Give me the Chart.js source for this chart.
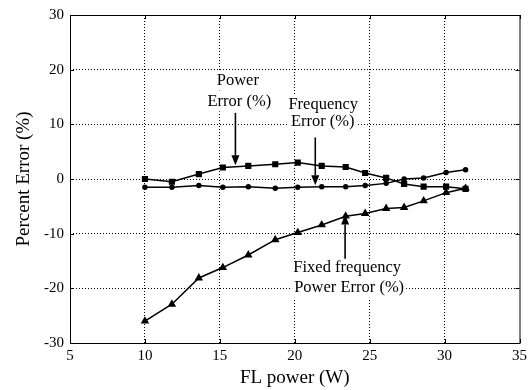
<!DOCTYPE html>
<html>
<head>
<meta charset="utf-8">
<script src="https://cdn.jsdelivr.net/npm/chart.js@4"></script>
<style>
  html, body { margin: 0; padding: 0; background: #fff; }
  #wrap { width: 531px; height: 390px; }
</style>
</head>
<body>
<div id="wrap"><canvas id="errChart" width="531" height="390"></canvas></div>
<script>
// FL power (W) for each measurement
var flPower = [10, 11.8, 13.6, 15.2, 16.9, 18.7, 20.2, 21.8, 23.4, 24.7, 26.1, 27.3, 28.6, 30.1, 31.4];
// percent errors
var powerErr = [0, -0.5, 0.9, 2.1, 2.4, 2.7, 3.0, 2.4, 2.2, 1.1, 0.2, -0.9, -1.4, -1.4, -1.8];
var freqErr = [-1.5, -1.5, -1.2, -1.5, -1.4, -1.7, -1.5, -1.4, -1.4, -1.2, -0.8, 0, 0.2, 1.2, 1.7];
var fixedErr = [-26.0, -22.9, -18.1, -16.2, -13.9, -11.1, -9.8, -8.4, -6.8, -6.3, -5.4, -5.2, -4.0, -2.5, -1.7];

var xTicks = [5, 10, 15, 20, 25, 30, 35];
var yTicks = [-30, -20, -10, 0, 10, 20, 30];

// labels and arrows placed in data units
var notes = [
    { text: 'Power', x: 16.2, y: 18.0 },
    { text: 'Error (%)', x: 16.3, y: 14.2 },
    { text: 'Frequency', x: 21.9, y: 13.6 },
    { text: 'Error (%)', x: 21.87, y: 10.4 },
    { text: 'Fixed frequency', x: 23.5, y: -16.3 },
    { text: 'Power Error (%)', x: 23.63, y: -19.9 }
];
var arrows = [
    { x: 16.04, from: 12.1, to: 2.5 },
    { x: 21.37, from: 7.6, to: -1.15 },
    { x: 23.36, from: -14.6, to: -6.5 }
];

function pairs(ys) {
    return flPower.map(function(x, i) { return { x: x, y: ys[i] }; });
}

var serif = '"Liberation Serif", "DejaVu Serif", serif';

// box, inward ticks, text labels and arrows
var decorPlugin = {
    id: 'decor',
    afterDraw: function(chart) {
        var ctx = chart.ctx;
        var a = chart.chartArea;
        var xs = chart.scales.x, ys = chart.scales.y;
        ctx.save();

        // labels sit on white so the grid dots stop at them
        ctx.font = '16.5px ' + serif;
        ctx.textAlign = 'center';
        ctx.textBaseline = 'middle';
        notes.forEach(function(n) {
            var px = xs.getPixelForValue(n.x), py = ys.getPixelForValue(n.y);
            var w = ctx.measureText(n.text).width;
            ctx.fillStyle = '#fff';
            ctx.fillRect(px - w / 2 - 2, py - 9, w + 4, 19);
            ctx.fillStyle = '#000';
            ctx.fillText(n.text, px, py);
        });

        ctx.strokeStyle = '#000';
        ctx.lineWidth = 1;
        ctx.setLineDash([]);
        ctx.strokeRect(a.left + 0.5, a.top + 0.5, a.right - a.left, a.bottom - a.top);
        var t = 4;
        ctx.beginPath();
        xTicks.forEach(function(v) {
            var px = Math.round(xs.getPixelForValue(v)) + 0.5;
            ctx.moveTo(px, a.bottom); ctx.lineTo(px, a.bottom - t);
            ctx.moveTo(px, a.top); ctx.lineTo(px, a.top + t);
        });
        yTicks.forEach(function(v) {
            var py = Math.round(ys.getPixelForValue(v)) + 0.5;
            ctx.moveTo(a.left, py); ctx.lineTo(a.left + t, py);
            ctx.moveTo(a.right, py); ctx.lineTo(a.right - t, py);
        });
        ctx.stroke();

        ctx.lineWidth = 1.6;
        ctx.fillStyle = '#000';
        arrows.forEach(function(ar) {
            var px = xs.getPixelForValue(ar.x);
            var y0 = ys.getPixelForValue(ar.from);
            var y1 = ys.getPixelForValue(ar.to);
            var dir = y1 > y0 ? 1 : -1;
            var head = 10;
            ctx.beginPath();
            ctx.moveTo(px, y0);
            ctx.lineTo(px, y1 - dir * head);
            ctx.stroke();
            ctx.beginPath();
            ctx.moveTo(px, y1);
            ctx.lineTo(px - 4, y1 - dir * head);
            ctx.lineTo(px + 4, y1 - dir * head);
            ctx.closePath();
            ctx.fill();
        });
        ctx.restore();
    }
};

function edgeClear(ctx) {
    var v = ctx.tick ? ctx.tick.value : null;
    return (v === ctx.scale.min || v === ctx.scale.max) ? 'rgba(0,0,0,0)' : '#000';
}

var common = { borderColor: '#000', backgroundColor: '#000', borderWidth: 1.5, fill: false, tension: 0 };

var ctx = document.getElementById('errChart').getContext('2d');
var chart = new Chart(ctx, {
    type: 'line',
    data: {
        datasets: [
            Object.assign({ label: 'Power Error (%)', data: pairs(powerErr), pointStyle: 'rect', pointRadius: 3.3 }, common),
            Object.assign({ label: 'Frequency Error (%)', data: pairs(freqErr), pointStyle: 'circle', pointRadius: 2 }, common),
            Object.assign({ label: 'Fixed frequency Power Error (%)', data: pairs(fixedErr), pointStyle: 'triangle', pointRadius: 3.4 }, common)
        ]
    },
    options: {
        responsive: false,
        animation: false,
        layout: { padding: { left: 0, top: 11, right: 10, bottom: 0 } },
        plugins: { legend: { display: false }, tooltip: { enabled: false } },
        scales: {
            x: {
                type: 'linear',
                min: 5, max: 35,
                afterBuildTicks: function(s) { s.ticks = xTicks.map(function(v) { return { value: v }; }); },
                afterFit: function(s) { s.height = 47; },
                grid: { color: edgeClear, lineWidth: 1, drawTicks: false },
                border: { display: false, dash: [1, 2] },
                ticks: { color: '#000', padding: 4, maxRotation: 0, font: { family: serif, size: 15 } },
                title: { display: true, text: 'FL power (W)', color: '#000', font: { family: serif, size: 19 }, padding: { top: 0, bottom: 1 } }
            },
            y: {
                min: -30, max: 30,
                afterBuildTicks: function(s) { s.ticks = yTicks.map(function(v) { return { value: v }; }); },
                afterFit: function(s) { s.width = 70; },
                grid: { color: edgeClear, lineWidth: 1, drawTicks: false },
                border: { display: false, dash: [1, 2] },
                ticks: { color: '#000', padding: 6, font: { family: serif, size: 15 } },
                title: { display: true, text: 'Percent Error (%)', color: '#000', font: { family: serif, size: 19 }, padding: { top: 13, bottom: 0 } }
            }
        }
    },
    plugins: [decorPlugin]
});
</script>
</body>
</html>
